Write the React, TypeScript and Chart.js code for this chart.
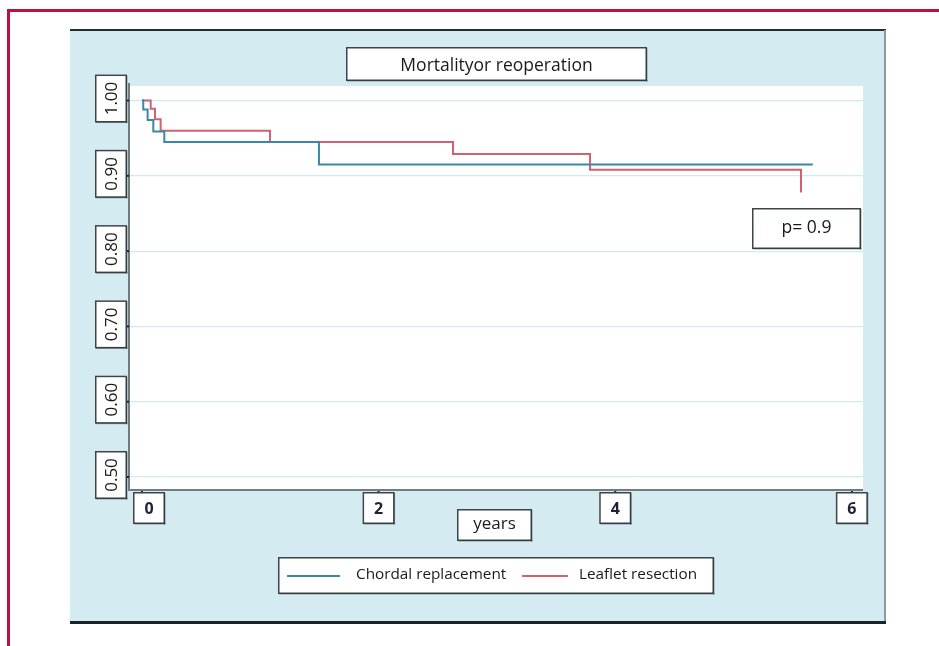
import React, { useEffect, useRef } from "react";
import { Chart, registerables } from "chart.js";

Chart.register(...registerables);

const chordalTimes = [0, 0.011, 0.048, 0.096, 0.189, 1.496, 5.67];
const chordalSurvival = [1.0, 0.988, 0.974, 0.959, 0.945, 0.915, 0.915];
const leafletTimes = [0, 0.074, 0.11, 0.158, 1.082, 2.629, 3.787, 5.57];
const leafletSurvival = [1.0, 0.989, 0.975, 0.96, 0.945, 0.929, 0.908, 0.878];
const yTickValues = [0.5, 0.6, 0.7, 0.8, 0.9, 1.0];
const yTickLabels = ["0.50", "0.60", "0.70", "0.80", "0.90", "1.00"];
const xTickValues = [0, 2, 4, 6];
const xTickLabels = ["0", "2", "4", "6"];
const seriesNames = ["Chordal replacement", "Leaflet resection"];
const seriesColors = ["#3a88a5", "#d2606f"];
const chartTitle = "Mortalityor reoperation";
const xAxisTitle = "years";
const pValueText = "p= 0.9";

const W = 939;
const H = 646;
const FONT = "'Open Sans', 'Noto Sans', sans-serif";

function box(ctx: CanvasRenderingContext2D, x: number, y: number, w: number, h: number) {
  ctx.save();
  ctx.fillStyle = "#ffffff";
  ctx.fillRect(x, y, w, h);
  ctx.strokeStyle = "#3c4448";
  ctx.lineWidth = 1.5;
  ctx.strokeRect(x + 0.75, y + 0.75, w - 1.5, h - 1.5);
  ctx.fillStyle = "rgba(40,50,55,0.45)";
  ctx.fillRect(x + w - 1, y + 1, 1.5, h - 0.5);
  ctx.fillRect(x + 1, y + h - 1, w - 0.5, 1.5);
  ctx.restore();
}

const decorPlugin = {
  id: "decor",
  beforeDraw(chart: any) {
    const ctx: CanvasRenderingContext2D = chart.ctx;
    const { left, top, right, bottom } = chart.chartArea;
    ctx.save();
    ctx.fillStyle = "#ffffff";
    ctx.fillRect(0, 0, W, H);
    ctx.fillStyle = "#bb1040";
    ctx.fillRect(7, 9, W - 7, 3);
    ctx.fillRect(7, 9, 3, H - 9);
    ctx.fillStyle = "#d4ecf1";
    ctx.fillRect(70, 30, 815, 592);
    ctx.fillStyle = "#1f2d33";
    ctx.fillRect(70, 29, 816, 2);
    ctx.fillStyle = "#8c9aa0";
    ctx.fillRect(884, 30, 2, 592);
    ctx.fillStyle = "#1a2428";
    ctx.fillRect(70, 621, 816, 3);
    ctx.fillStyle = "#ffffff";
    ctx.fillRect(left, top, right - left, bottom - top);
    ctx.restore();
  },
  afterDraw(chart: any) {
    const ctx: CanvasRenderingContext2D = chart.ctx;
    const { left, top, right, bottom } = chart.chartArea;
    const xs = chart.scales.x;
    const ys = chart.scales.y;
    ctx.save();
    ctx.fillStyle = "#6f7c82";
    ctx.fillRect(left - 2, top - 3, 2, bottom - top + 4);
    ctx.fillRect(left - 2, bottom - 1, right - left + 2, 2);

    yTickValues.forEach((v, i) => {
      const py = ys.getPixelForValue(v);
      ctx.fillStyle = "#222";
      ctx.fillRect(left - 3, py - 1, 2, 2);
      const bh = 48;
      box(ctx, 95, py - bh / 2 - 2, 32, bh);
      ctx.save();
      ctx.translate(111, py - 2);
      ctx.rotate(-Math.PI / 2);
      ctx.fillStyle = "#1a1a1a";
      ctx.font = `17px ${FONT}`;
      ctx.textAlign = "center";
      ctx.textBaseline = "middle";
      ctx.fillText(yTickLabels[i], 0, 1);
      ctx.restore();
    });

    xTickValues.forEach((v, i) => {
      const px = xs.getPixelForValue(v);
      ctx.fillStyle = "#222";
      ctx.fillRect(px - 1, bottom + 1, 2, 2);
      const bx = Math.max(px - 16, left + 3);
      box(ctx, bx, bottom + 2, 32, 32);
      ctx.fillStyle = "#1c2230";
      ctx.font = `bold 16px ${FONT}`;
      ctx.textAlign = "center";
      ctx.textBaseline = "middle";
      ctx.fillText(xTickLabels[i], bx + 16, bottom + 19);
    });

    box(ctx, 346, 47, 301, 34);
    ctx.fillStyle = "#1a1a1a";
    ctx.font = `17.5px ${FONT}`;
    ctx.textAlign = "center";
    ctx.textBaseline = "middle";
    ctx.fillText(chartTitle, 496.5, 66);

    ctx.font = `17px ${FONT}`;
    box(ctx, 457, 509, 75, 32);
    ctx.fillText(xAxisTitle, 494.5, 524);

    box(ctx, 752, 208, 109, 41);
    ctx.font = `17.5px ${FONT}`;
    ctx.fillText(pValueText, 806.5, 228);

    box(ctx, 278, 557, 436, 37);
    ctx.lineWidth = 2;
    ctx.strokeStyle = seriesColors[0];
    ctx.beginPath();
    ctx.moveTo(287, 576);
    ctx.lineTo(340, 576);
    ctx.stroke();
    ctx.strokeStyle = seriesColors[1];
    ctx.beginPath();
    ctx.moveTo(522, 576);
    ctx.lineTo(568, 576);
    ctx.stroke();
    ctx.fillStyle = "#1a1a1a";
    ctx.font = `15.3px ${FONT}`;
    ctx.textAlign = "left";
    ctx.fillText(seriesNames[0], 356, 575);
    ctx.fillText(seriesNames[1], 579, 575);
    ctx.restore();
  },
};

export default function App() {
  const ref = useRef<HTMLCanvasElement>(null);
  useEffect(() => {
    if (!ref.current) return;
    const chart = new Chart(ref.current, {
      type: "line",
      data: {
        datasets: [
          {
            label: seriesNames[0],
            data: chordalTimes.map((t, i) => ({ x: t, y: chordalSurvival[i] })),
            borderColor: seriesColors[0],
            borderWidth: 2,
            pointRadius: 0,
            stepped: true,
            fill: false,
          },
          {
            label: seriesNames[1],
            data: leafletTimes.map((t, i) => ({ x: t, y: leafletSurvival[i] })),
            borderColor: seriesColors[1],
            borderWidth: 2,
            pointRadius: 0,
            stepped: true,
            fill: false,
          },
        ],
      },
      options: {
        animation: false,
        responsive: false,
        devicePixelRatio: 1,
        layout: { padding: { left: 130, right: W - 863, top: 86, bottom: H - 490 } },
        plugins: {
          legend: { display: false },
          title: { display: false },
          tooltip: { enabled: false },
        },
        scales: {
          x: {
            type: "linear",
            min: -0.101,
            max: 6.094,
            ticks: { display: false },
            grid: { display: false, drawTicks: false },
            border: { display: false },
            afterFit: (s: any) => {
              s.height = 0;
            },
          },
          y: {
            type: "linear",
            min: 0.4827,
            max: 1.0193,
            ticks: { display: false },
            grid: { color: "#d3e9f0", lineWidth: 1.2, drawTicks: false },
            border: { display: false },
            afterBuildTicks: (s: any) => {
              s.ticks = yTickValues.map((v) => ({ value: v }));
            },
            afterFit: (s: any) => {
              s.width = 0;
            },
          },
        },
      },
      plugins: [decorPlugin],
    });
    return () => chart.destroy();
  }, []);
  return (
    <div style={{ position: "fixed", left: 0, top: 0, width: W, height: H }}>
      <canvas ref={ref} width={W} height={H} style={{ display: "block" }} />
    </div>
  );
}
